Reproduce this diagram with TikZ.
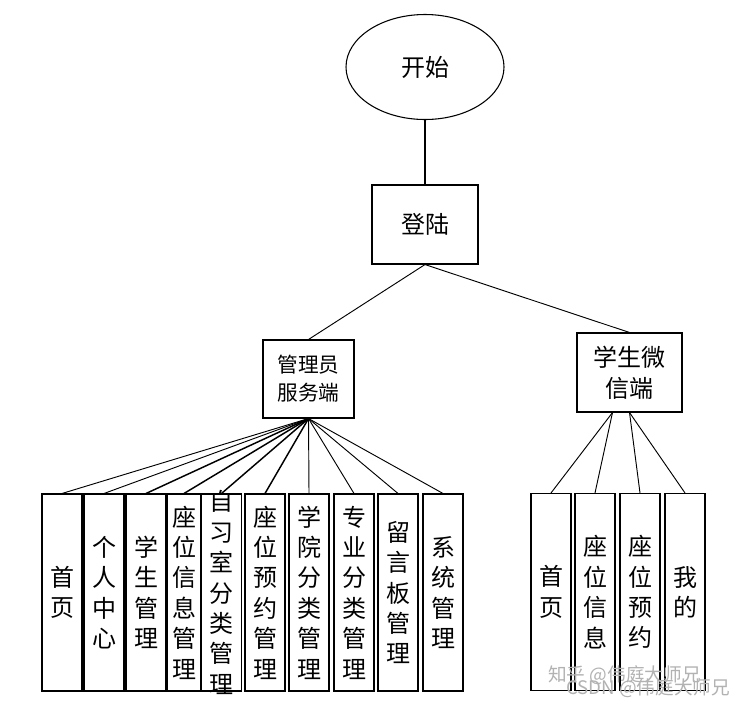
\documentclass[tikz,border=0pt]{standalone}
\usepackage{fontspec}
\setmainfont{Noto Sans CJK SC}
\usetikzlibrary{shapes.geometric}
\begin{document}
\begin{tikzpicture}[x=0.75pt,y=-0.75pt,
  every node/.style={inner sep=0pt},
  conn/.style={draw=black,line width=0.7pt},
  thickconn/.style={draw=black,line width=1.5pt},
  vbox/.style={draw=black,line width=0.8pt,fill=white,minimum width=30pt,minimum height=147.75pt,align=center,
    font=\fontsize{18pt}{22.8pt}\selectfont},
  topbox/.style={draw=black,line width=0.8pt,fill=white,align=center},
  wm/.style={text=black!30,font=\fontsize{14pt}{16pt}\selectfont,anchor=west}]
\useasboundingbox[fill=white] (0,0) rectangle (752,708);
% top
\node[ellipse,draw=black,line width=0.8pt,minimum width=118.5pt,minimum height=78.75pt,font=\fontsize{18pt}{22pt}\selectfont] (start) at (425,67) {开始};
\node[topbox,minimum width=79.5pt,minimum height=59.25pt,font=\fontsize{18pt}{22pt}\selectfont] (login) at (425,224.5) {登陆};
\node[topbox,minimum width=68.25pt,minimum height=58.5pt,font=\fontsize{15.5pt}{21pt}\selectfont] (adm) at (308.5,379) {管理员\\服务端};
\node[topbox,minimum width=78.75pt,minimum height=59.25pt,font=\fontsize{18pt}{23pt}\selectfont] (stu) at (629.5,372.5) {学生微\\信端};
\draw[thickconn] (start) -- (login);
\draw[conn] (login.south) -- (adm.north);
\draw[conn] (login.south) -- (stu.north);
% admin children
\node[vbox] (a1) at (62,592.5) {首\\页};
\node[vbox] (a2) at (104,592.5) {个\\人\\中\\心};
\node[vbox] (a3) at (146,592.5) {学\\生\\管\\理};
\node[vbox,minimum width=25.5pt] (a4) at (184,592.5) {座\\位\\信\\息\\管\\理};
\node[vbox] (a5) at (221.5,592.5) {};
\node[align=center,font=\fontsize{18pt}{22.8pt}\selectfont] (a5t) at (a5) {自\\习\\室\\分\\类\\管\\理};
\node[vbox] (a6) at (265,592.5) {座\\位\\预\\约\\管\\理};
\node[vbox] (a7) at (309,592.5) {学\\院\\分\\类\\管\\理};
\node[vbox] (a8) at (354,592.5) {专\\业\\分\\类\\管\\理};
\node[vbox] (a9) at (398,592.5) {留\\言\\板\\管\\理};
\node[vbox] (a10) at (443,592.5) {系\\统\\管\\理};
\foreach \n in {a1,a2,a9,a10} \draw[conn] (adm.south) -- (\n.north);
\foreach \n in {a3,a4,a5,a6} \draw[draw=black,line width=1.1pt] (adm.south) -- (\n.north);
\foreach \n in {a7,a8} \draw[conn] (adm.south) -- (\n.north);
% student children
\node[vbox] (s1) at (551,592) {首\\页};
\node[vbox] (s2) at (595,592) {座\\位\\信\\息};
\node[vbox] (s3) at (640,592) {座\\位\\预\\约};
\node[vbox] (s4) at (685,592) {我\\的};
\coordinate (stuL) at ([xshift=-12.75pt]stu.south);
\draw[conn] (stuL) -- (s1.north);
\draw[conn] (stuL) -- (s2.north);
\draw[conn] (stu.south) -- (s3.north);
\draw[conn] (stu.south) -- (s4.north);
% watermarks
\node[wm] (wm1) at (548,675) {知乎 @伟庭大师兄};
\node[wm] (wm2) at (566,688) {CSDN @伟庭大师兄};
\end{tikzpicture}
\end{document}
